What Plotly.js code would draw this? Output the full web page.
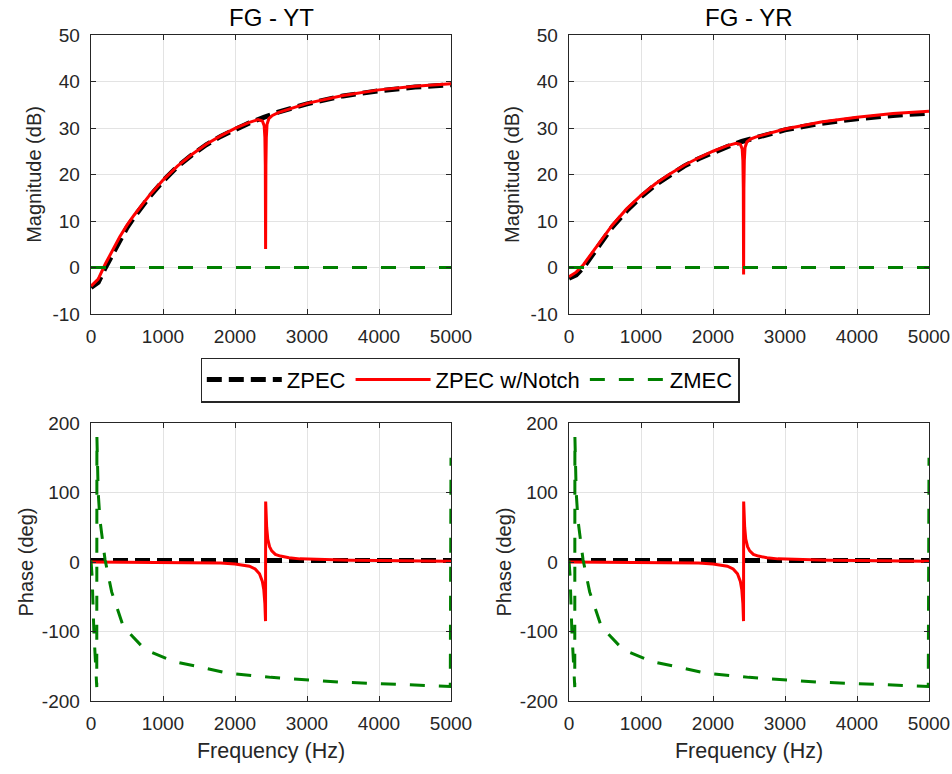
<!DOCTYPE html>
<html>
<head>
<meta charset="utf-8">
<script src="https://cdn.plot.ly/plotly-3.0.1.min.js"></script>
<style>html,body{margin:0;padding:0;background:#fff;}#chart{width:952px;height:774px;}</style>
</head>
<body>
<div id="chart"></div>
<script>
// ---------- DATA ----------
const freq = [0, 100, 200, 300, 400, 500, 600, 800, 1000, 1200, 1400, 1600, 1800, 2000, 2200, 2400, 2600, 3000, 3500, 4000, 4500, 5000];
const magZpecYT = [-4.3, -3.2, 0.0, 3.0, 6.0, 8.6, 10.9, 15.0, 18.6, 21.7, 24.2, 26.4, 28.2, 29.8, 31.1, 32.3, 33.4, 35.2, 36.9, 38.0, 38.8, 39.3];
const magZpecYR = [-2.3, -1.6, 0.0, 2.2, 4.5, 6.7, 8.7, 12.2, 15.2, 17.8, 19.9, 21.8, 23.4, 24.8, 26.0, 27.1, 28.0, 29.6, 31.0, 32.0, 32.7, 33.2];

const freqNotch = [0, 100, 200, 300, 400, 500, 600, 800, 1000, 1200, 1400, 1600, 1800, 2000, 2200, 2320, 2380, 2405, 2415, 2421, 2425, 2429, 2435, 2445, 2470, 2520, 2600, 3000, 3500, 4000, 4500, 5000];
const magNotchYT = [-4.0, -2.5, 0.8, 3.8, 6.6, 9.1, 11.3, 15.3, 18.8, 21.8, 24.3, 26.5, 28.3, 29.9, 31.2, 31.8, 31.5, 30.5, 28.0, 22.0, 4.0, 22.0, 28.0, 30.8, 32.0, 32.7, 33.3, 35.3, 37.0, 38.2, 39.0, 39.5];
const magNotchYR = [-2.0, -1.0, 0.6, 2.7, 5.0, 7.1, 9.1, 12.6, 15.5, 18.0, 20.1, 22.0, 23.6, 25.0, 26.2, 26.7, 26.5, 25.5, 23.0, 17.0, -1.5, 17.0, 23.0, 25.8, 27.0, 27.6, 28.1, 29.8, 31.3, 32.3, 33.1, 33.6];

const freqFlat = [0, 5000];
const magZmec = [0, 0];
const phaseZpec = [2, 2];

const freqPhNotch = [0, 500, 1000, 1500, 1800, 2000, 2100, 2200, 2280, 2340, 2380, 2400, 2415, 2424, 2426, 2430, 2440, 2455, 2480, 2510, 2560, 2630, 2750, 2900, 3200, 3600, 4000, 4500, 5000];
const phaseNotchYT = [0, -0.3, -0.6, -1.0, -1.5, -3, -4, -6, -10, -17, -28, -40, -60, -85, 87, 70, 50, 33, 22, 16, 11, 8.5, 6, 4.5, 3.5, 2.5, 2, 1.5, 1];
const phaseNotchYR = [0, -0.3, -0.6, -1.0, -1.5, -3, -4, -6, -10, -17, -28, -40, -60, -85, 87, 70, 50, 33, 22, 16, 11, 8.5, 6, 4.5, 3.5, 2.5, 2, 1.5, 1];

const freqZmecPh = [0, 15, 40, 80, 82, 88, 100, 125, 148, 194, 287, 449, 750, 1143, 1556, 1903, 2500, 3000, 3500, 4000, 4500, 4990, 5000];
const phaseZmecYT = [2, -20, -100, -180, 180, 160, 100, 60, 40, 4, -43, -93, -126, -143, -152, -160, -166, -170, -173, -175, -177, -179, 150];
const phaseZmecYR = [2, -20, -100, -180, 180, 160, 100, 60, 40, 4, -43, -93, -126, -143, -152, -160, -166, -170, -173, -175, -177, -179, 150];

const subplotTitles = ['FG - YT', 'FG - YR'];
const legendNames = ['ZPEC', 'ZPEC w/Notch', 'ZMEC'];
const magTickVals = [-10, 0, 10, 20, 30, 40, 50];
const magTickText = ['-10', '0', '10', '20', '30', '40', '50'];
const phTickVals = [-200, -100, 0, 100, 200];
const phTickText = ['-200', '-100', '0', '100', '200'];
const freqTickVals = [0, 1000, 2000, 3000, 4000, 5000];
const freqTickText = ['0', '1000', '2000', '3000', '4000', '5000'];

// ---------- STYLE ----------
const cBlack = '#000000', cRed = '#ff0000', cGreen = '#008000';
const blackLine = {color: cBlack, width: 5, dash: '15px,7px'};
const redLine = {color: cRed, width: 3};
const greenLine = {color: cGreen, width: 3, dash: '15px,14px'};

function trio(xa, ya, magOrPh, idx, show) {
  const list = [];
  if (magOrPh === 'mag') {
    list.push({x: freq, y: idx === 0 ? magZpecYT : magZpecYR, name: legendNames[0], line: blackLine});
    list.push({x: freqNotch, y: idx === 0 ? magNotchYT : magNotchYR, name: legendNames[1], line: redLine});
    list.push({x: freqFlat, y: magZmec, name: legendNames[2], line: greenLine});
  } else {
    list.push({x: freqFlat, y: phaseZpec, name: legendNames[0], line: blackLine});
    list.push({x: freqPhNotch, y: idx === 0 ? phaseNotchYT : phaseNotchYR, name: legendNames[1], line: redLine});
    list.push({x: freqZmecPh, y: idx === 0 ? phaseZmecYT : phaseZmecYR, name: legendNames[2], line: greenLine});
  }
  return list.map(t => Object.assign(t, {type: 'scatter', mode: 'lines', xaxis: xa, yaxis: ya, showlegend: show, hoverinfo: 'skip'}));
}

const data = [].concat(
  trio('x', 'y', 'mag', 0, true),
  trio('x2', 'y2', 'mag', 1, false),
  trio('x3', 'y3', 'ph', 0, false),
  trio('x4', 'y4', 'ph', 1, false)
);

const txt = '#262626';
const fontFam = 'Liberation Sans, Arial, Helvetica, sans-serif';
function xax(domain, anchor, withTitle) {
  const a = {domain: domain, anchor: anchor, range: [0, 5000], tickmode: 'array', tickvals: freqTickVals, ticktext: freqTickText,
    showline: true, linecolor: txt, linewidth: 1.3, mirror: 'ticks', ticks: 'inside', ticklen: 5, tickcolor: txt,
    showgrid: true, gridcolor: '#e3e3e3', gridwidth: 1, zeroline: false,
    tickfont: {size: 19, color: txt, family: fontFam}, ticklabelstandoff: 5, fixedrange: true};
  if (withTitle) a.title = {text: 'Frequency (Hz)', font: {size: 21.5, color: txt, family: fontFam}, standoff: 10};
  return a;
}
function yax(domain, anchor, range, vals, texts, title, standoff) {
  return {domain: domain, anchor: anchor, range: range, tickmode: 'array', tickvals: vals, ticktext: texts,
    showline: true, linecolor: txt, linewidth: 1.3, mirror: 'ticks', ticks: 'inside', ticklen: 5, tickcolor: txt,
    showgrid: true, gridcolor: '#e3e3e3', gridwidth: 1, zeroline: false,
    tickfont: {size: 19, color: txt, family: fontFam}, ticklabelstandoff: 6, fixedrange: true,
    title: {text: title, font: {size: 20, color: txt, family: fontFam}, standoff: standoff}};
}

const xL = [91/952, 451/952], xR = [569/952, 929/952];
const yT = [1 - 314/774, 1 - 35/774], yB = [1 - 701/774, 1 - 423/774];

const layout = {
  width: 952, height: 774, autosize: false,
  margin: {l: 0, r: 0, t: 0, b: 0},
  paper_bgcolor: '#ffffff', plot_bgcolor: '#ffffff',
  font: {family: fontFam, color: txt},
  xaxis: xax(xL, 'y', false), yaxis: yax(yT, 'x', [-10, 50], magTickVals, magTickText, 'Magnitude (dB)', 5),
  xaxis2: xax(xR, 'y2', false), yaxis2: yax(yT, 'x2', [-10, 50], magTickVals, magTickText, 'Magnitude (dB)', 5),
  xaxis3: xax(xL, 'y3', true), yaxis3: yax(yB, 'x3', [-200, 200], phTickVals, phTickText, 'Phase (deg)', 3),
  xaxis4: xax(xR, 'y4', true), yaxis4: yax(yB, 'x4', [-200, 200], phTickVals, phTickText, 'Phase (deg)', 3),
  legend: {orientation: 'h', x: 470/952, y: 1 - 380/774, xanchor: 'center', yanchor: 'middle',
    bgcolor: '#ffffff', bordercolor: txt, borderwidth: 1.3, itemwidth: 75,
    font: {size: 22, color: '#000', family: fontFam}, itemclick: false, itemdoubleclick: false},
  annotations: [
    {text: subplotTitles[0], x: (xL[0] + xL[1]) / 2, y: 1 - 17/774, xref: 'paper', yref: 'paper', showarrow: false, xanchor: 'center', yanchor: 'middle', font: {size: 24, color: '#000', family: fontFam}},
    {text: subplotTitles[1], x: (xR[0] + xR[1]) / 2, y: 1 - 17/774, xref: 'paper', yref: 'paper', showarrow: false, xanchor: 'center', yanchor: 'middle', font: {size: 24, color: '#000', family: fontFam}}
  ],
  showlegend: true
};

Plotly.newPlot('chart', data, layout, {displayModeBar: false, staticPlot: true});
</script>
</body>
</html>
